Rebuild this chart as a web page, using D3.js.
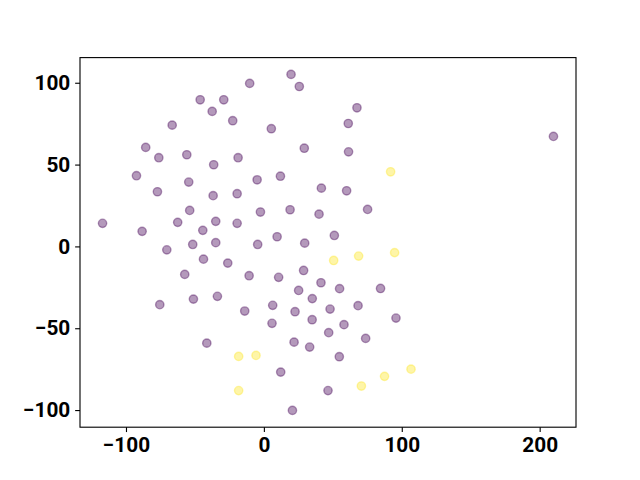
<!DOCTYPE html>
<html>
<head>
<meta charset="utf-8">
<script src="https://cdn.jsdelivr.net/npm/d3@7"></script>
<style>
  html, body { margin: 0; padding: 0; background: #fff; }
  svg { display: block; }
</style>
</head>
<body>
<div id="chart"></div>
<script>
// class 0 (purple) embedding coordinates
const purpleX = [19.7, 25.7, -10.3, -46.2, -29.1, -37.5, -22.6, -66.5, 5.4, 67.5,
  61.2, -85.7, -76.2, -55.9, -36.4, -18.7, 29.3, 61.4, 210.0, -92.4,
  -54.5, -77.2, -36.8, -19.4, -4.9, 12.0, 41.7, 60.0, -53.8, -2.5,
  19.0, 40.0, 75.2, -117.0, -62.5, -34.9, -19.4, -88.3, -44.3, 9.6,
  51.1, -51.6, -34.9, -4.5, 29.6, -70.4, -43.8, -26.2, -57.4, -10.7,
  10.7, 28.8, 41.4, 25.2, 54.9, 84.6, 35.1, -75.5, -51.1, -33.7,
  -13.9, 6.4, 22.6, 48.0, 68.3, 5.9, 35.0, 58.1, 95.8, 47.0,
  73.8, -41.4, 21.9, 33.2, 54.7, 12.2, 46.5, 20.7];
const purpleY = [105.1, 97.7, 99.6, 89.6, 89.6, 82.5, 76.8, 74.1, 71.9, 84.7,
  75.1, 60.5, 54.2, 56.0, 49.9, 54.2, 60.0, 57.8, 67.2, 43.2,
  39.3, 33.4, 31.0, 32.2, 40.7, 42.9, 35.6, 34.0, 22.0, 21.0,
  22.4, 19.7, 22.6, 14.1, 14.7, 15.3, 14.1, 9.2, 9.8, 5.9,
  6.7, 1.2, 2.3, 1.2, 2.0, -2.1, -7.8, -10.2, -17.1, -17.9,
  -18.9, -14.7, -22.2, -26.9, -25.8, -25.7, -31.9, -35.6, -32.2, -30.5,
  -39.5, -36.0, -39.9, -38.3, -36.2, -47.0, -44.8, -47.8, -43.8, -52.7,
  -56.2, -59.1, -58.5, -61.5, -67.4, -76.8, -88.1, -100.2];

// class 1 (yellow)
const yellowX = [91.9, 94.8, 68.7, 50.6, -18.3, -5.7, -18.3, 70.7, 87.5, 106.7];
const yellowY = [45.6, -3.8, -5.9, -8.6, -67.2, -66.6, -88.1, -85.3, -79.4, -75.0];

const xTicks = [-100, 0, 100, 200];
const yTicks = [-100, -50, 0, 50, 100];

const width = 640, height = 480;
const margin = { top: 57.6, right: 64, bottom: 52.8, left: 80 };
const pt = 100 / 72;

const points = [
  ...purpleX.map((x, i) => ({ x, y: purpleY[i], c: "#440154" })),
  ...yellowX.map((x, i) => ({ x, y: yellowY[i], c: "#fde725" })),
];

// matplotlib style 5% auto margins
const pad = (ext) => {
  const d = (ext[1] - ext[0]) * 0.05;
  return [ext[0] - d, ext[1] + d];
};

const x = d3.scaleLinear()
  .domain(pad(d3.extent(points, (d) => d.x)))
  .range([margin.left, width - margin.right]);

const y = d3.scaleLinear()
  .domain(pad(d3.extent(points, (d) => d.y)))
  .range([height - margin.bottom, margin.top]);

const svg = d3.select("#chart").append("svg")
  .attr("width", width)
  .attr("height", height)
  .attr("viewBox", [0, 0, width, height]);

// points
svg.append("g")
  .selectAll("circle")
  .data(points)
  .join("circle")
  .attr("cx", (d) => x(d.x))
  .attr("cy", (d) => y(d.y))
  .attr("r", 3 * pt)
  .attr("fill", (d) => d.c)
  .attr("fill-opacity", 0.4)
  .attr("stroke", (d) => d.c)
  .attr("stroke-opacity", 0.4)
  .attr("stroke-width", 1 * pt);

// axes
const styleAxis = (g) => {
  g.select(".domain").remove();
  g.selectAll(".tick line")
    .attr("stroke", "#000")
    .attr("stroke-width", 0.8 * pt);
  g.selectAll(".tick text")
    .attr("fill", "#000")
    .style("font-family", "Roboto, 'DejaVu Sans', sans-serif")
    .style("font-weight", "bold")
    .style("font-size", "20.8px");
};

svg.append("g")
  .attr("transform", `translate(0, ${height - margin.bottom})`)
  .call(
    d3.axisBottom(x)
      .tickValues(xTicks)
      .tickSizeInner(3.5 * pt)
      .tickSizeOuter(0)
      .tickPadding(3.5 * pt),
  )
  .call(styleAxis);

svg.append("g")
  .attr("transform", `translate(${margin.left}, 0)`)
  .call(
    d3.axisLeft(y)
      .tickValues(yTicks)
      .tickSizeInner(3.5 * pt)
      .tickSizeOuter(0)
      .tickPadding(3.5 * pt),
  )
  .call(styleAxis);

// frame
svg.append("rect")
  .attr("x", margin.left)
  .attr("y", margin.top)
  .attr("width", width - margin.left - margin.right)
  .attr("height", height - margin.top - margin.bottom)
  .attr("fill", "none")
  .attr("stroke", "#000")
  .attr("stroke-width", 0.8 * pt);
</script>
</body>
</html>
